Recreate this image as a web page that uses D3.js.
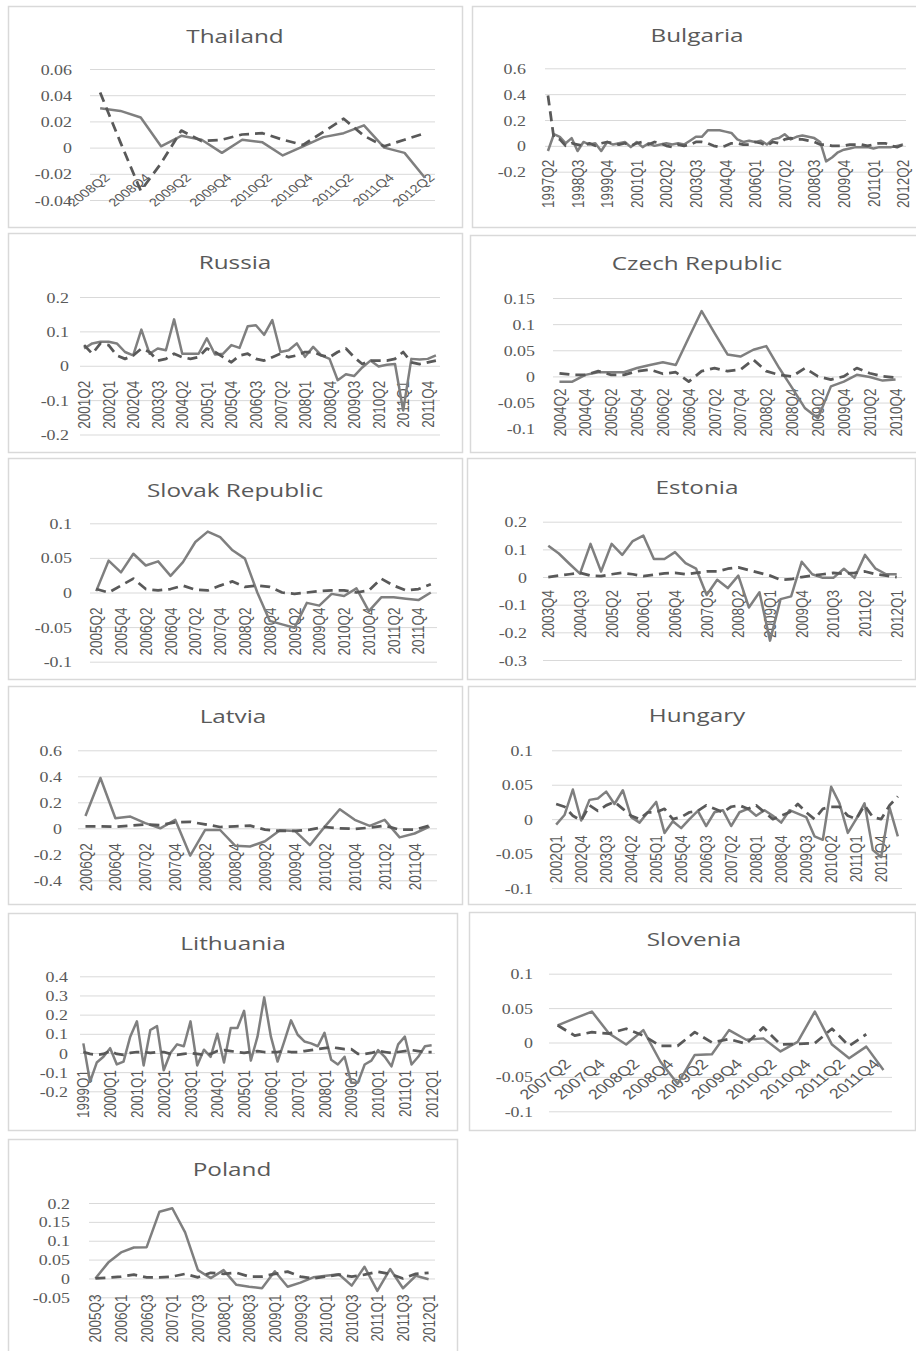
<!DOCTYPE html>
<html>
<head>
<meta charset="utf-8">
<script src="https://cdn.jsdelivr.net/npm/d3@7"></script>
<style>body{margin:0;background:#fff}</style>
</head>
<body>
<script>
// Quarterly category labels from one quarter to another, inclusive.
function quarters(from, to) {
  let y = +from.slice(0, 4), q = +from.slice(5);
  const ey = +to.slice(0, 4), eq = +to.slice(5);
  const out = [];
  while (y < ey || (y === ey && q <= eq)) {
    out.push(y + "Q" + q);
    q++; if (q > 4) { q = 1; y++; }
  }
  return out;
}

// ---------------- data ----------------
const thailandCategories = quarters("2008Q2", "2012Q2");
const thailandTicks = [-0.04, -0.02, 0, 0.02, 0.04, 0.06];
const thailandSolid = [0.030, 0.028, 0.023, 0.001, 0.009, 0.006, -0.004, 0.006, 0.004, -0.006, 0.001, 0.008, 0.011, 0.017, 0.000, -0.004, -0.023];
const thailandDashed = [0.042, 0.004, -0.033, -0.012, 0.013, 0.005, 0.006, 0.010, 0.011, 0.006, 0.002, 0.012, 0.022, 0.009, 0.001, 0.006, 0.011];

const bulgariaCategories = quarters("1997Q2", "2012Q2");
const bulgariaTicks = [-0.2, 0, 0.2, 0.4, 0.6];
const bulgariaSolid = [-0.04, 0.09, 0.07, 0.02, 0.06, -0.04, 0.03, 0.01, 0.02, -0.04,
  0.03, 0.01, 0.02, 0.03, -0.01, 0.03, -0.01, 0.02, 0.00, 0.01,
  0.02, 0.01, 0.02, 0.01, 0.04, 0.07, 0.07, 0.12, 0.12, 0.12,
  0.11, 0.10, 0.05, 0.03, 0.04, 0.03, 0.04, 0.01, 0.05, 0.06,
  0.09, 0.05, 0.07, 0.08, 0.07, 0.06, 0.03, -0.12, -0.09, -0.05,
  -0.03, -0.02, -0.01, -0.01, -0.01, -0.02, -0.01, -0.01, -0.01, 0.00, 0.01];
const bulgariaDashed = [0.39, 0.06, 0.05, 0.00, 0.02, 0.01, 0.00, 0.02, 0.00, 0.02,
  0.03, 0.02, 0.01, 0.02, 0.00, 0.02, 0.03, 0.01, 0.03, 0.02,
  0.00, -0.01, 0.01, 0.00, 0.01, 0.03, 0.03, 0.02, 0.00, -0.01,
  0.00, 0.02, 0.02, 0.01, 0.01, 0.03, 0.02, 0.00, 0.03, 0.02,
  0.05, 0.06, 0.05, 0.05, 0.04, 0.03, 0.01, 0.01, 0.00, 0.00,
  0.00, 0.01, 0.01, 0.01, 0.00, 0.01, 0.02, 0.02, 0.00, -0.01, 0.01];

const russiaCategories = quarters("2001Q2", "2012Q1");
const russiaTicks = [-0.2, -0.1, 0, 0.1, 0.2];
const russiaSolid = [0.05, 0.065, 0.07, 0.07, 0.065, 0.04, 0.03, 0.105, 0.035, 0.05,
  0.045, 0.135, 0.035, 0.035, 0.035, 0.08, 0.033, 0.035, 0.06, 0.052,
  0.115, 0.118, 0.09, 0.133, 0.04, 0.045, 0.065, 0.026, 0.055, 0.03,
  0.02, -0.042, -0.025, -0.03, -0.005, 0.015, -0.002, 0.003, 0.005, -0.13,
  0.02, 0.018, 0.02, 0.03];
const russiaDashed = [0.06, 0.035, 0.065, 0.06, 0.03, 0.02, 0.03, 0.05, 0.04, 0.015,
  0.02, 0.035, 0.025, 0.02, 0.025, 0.05, 0.04, 0.025, 0.01, 0.03,
  0.035, 0.02, 0.015, 0.025, 0.035, 0.025, 0.03, 0.04, 0.04, 0.03,
  0.025, 0.04, 0.05, 0.025, 0.005, 0.015, 0.015, 0.015, 0.02, 0.04,
  0.01, 0.005, 0.01, 0.015];

const czechCategories = quarters("2004Q2", "2010Q4");
const czechTicks = [-0.1, -0.05, 0, 0.05, 0.1, 0.15];
const czechSolid = [-0.01, -0.01, 0.003, 0.008, 0.008, 0.008, 0.016, 0.022, 0.027, 0.022,
  0.074, 0.125, 0.083, 0.042, 0.038, 0.051, 0.058, 0.016, -0.022, -0.061,
  -0.08, -0.019, -0.01, 0.003, -0.001, -0.008, -0.006];
const czechDashed = [0.006, 0.003, 0.003, 0.01, 0.003, 0.003, 0.01, 0.013, 0.005, 0.008,
  -0.01, 0.01, 0.016, 0.01, 0.013, 0.032, 0.01, 0.003, 0.0, 0.016,
  0.0, -0.006, 0.0, 0.016, 0.006, 0.0, -0.002];

const slovakCategories = quarters("2005Q2", "2012Q1");
const slovakTicks = [-0.1, -0.05, 0, 0.05, 0.1];
const slovakSolid = [0.002, 0.046, 0.029, 0.056, 0.039, 0.045, 0.024, 0.044, 0.073, 0.088,
  0.08, 0.061, 0.049, 0.0, -0.041, -0.046, -0.051, -0.015, -0.019, -0.002,
  -0.005, 0.006, -0.027, -0.007, -0.007, -0.009, -0.011, 0.0];
const slovakDashed = [0.005, 0.0, 0.01, 0.02, 0.005, 0.003, 0.005, 0.01, 0.004, 0.003,
  0.01, 0.016, 0.008, 0.01, 0.008, 0.0, -0.002, 0.0, 0.002, 0.003,
  0.003, 0.0, 0.003, 0.02, 0.01, 0.003, 0.005, 0.012];

const estoniaCategories = quarters("2003Q4", "2012Q1");
const estoniaTicks = [-0.3, -0.2, -0.1, 0, 0.1, 0.2];
const estoniaSolid = [0.113, 0.085, 0.048, 0.012, 0.12, 0.02, 0.12, 0.08, 0.13, 0.15,
  0.065, 0.065, 0.09, 0.05, 0.03, -0.065, -0.01, -0.04, 0.005, -0.11,
  -0.055, -0.23, -0.08, -0.07, 0.055, 0.01, -0.003, -0.003, 0.03, -0.003,
  0.08, 0.03, 0.01, 0.01];
const estoniaDashed = [0.0, 0.005, 0.01, 0.015, 0.005, 0.003, 0.01, 0.015, 0.01, 0.003,
  0.008, 0.013, 0.015, 0.01, 0.015, 0.02, 0.02, 0.03, 0.035, 0.025,
  0.015, 0.005, -0.01, -0.008, 0.0, 0.005, 0.01, 0.015, 0.012, 0.015,
  0.02, 0.01, 0.005, 0.0];

const latviaCategories = quarters("2006Q2", "2012Q1");
const latviaTicks = [-0.4, -0.2, 0, 0.2, 0.4, 0.6];
const latviaSolid = [0.095, 0.387, 0.077, 0.09, 0.04, 0.0, 0.065, -0.21, -0.013, -0.013,
  -0.134, -0.14, -0.1, -0.015, -0.02, -0.13, 0.013, 0.147, 0.065, 0.018,
  0.065, -0.07, -0.04, 0.013];
const latviaDashed = [0.015, 0.015, 0.012, 0.02, 0.03, 0.025, 0.045, 0.05, 0.03, 0.01,
  0.015, 0.02, -0.01, -0.02, -0.02, -0.01, 0.01, 0.0, -0.005, 0.005,
  0.02, -0.01, -0.01, 0.02];

const hungaryCategories = quarters("2002Q1", "2012Q2");
const hungaryTicks = [-0.1, -0.05, 0, 0.05, 0.1];
const hungarySolid = [-0.008, 0.006, 0.043, -0.002, 0.028, 0.03, 0.04, 0.022, 0.042, 0.003,
  -0.005, 0.01, 0.025, -0.02, -0.003, -0.013, 0.0, 0.012, -0.01, 0.01,
  0.013, -0.01, 0.01, 0.015, 0.005, 0.013, 0.005, -0.005, 0.013, 0.008,
  0.003, -0.025, -0.03, 0.047, 0.023, -0.02, 0.0, 0.023, -0.045, -0.055,
  0.017, -0.025];
const hungaryDashed = [0.022, 0.018, 0.005, -0.002, 0.02, 0.012, 0.02, 0.025, 0.015, 0.005,
  0.0, 0.01, 0.01, 0.015, 0.0, 0.003, 0.01, 0.012, 0.02, 0.015,
  0.01, 0.018, 0.02, 0.015, 0.02, 0.01, 0.0, 0.005, 0.01, 0.022,
  0.01, 0.0, 0.015, 0.018, 0.018, 0.005, 0.0, 0.02, 0.003, 0.0,
  0.02, 0.033];

const lithuaniaCategories = quarters("1999Q1", "2012Q1");
const lithuaniaTicks = [-0.2, -0.1, 0, 0.1, 0.2, 0.3, 0.4];
const lithuaniaSolid = [0.05, -0.15, -0.05, -0.02, 0.025, -0.06, -0.045, 0.085, 0.165, -0.065,
  0.12, 0.14, -0.09, 0.0, 0.045, 0.035, 0.165, -0.065, 0.017, -0.02,
  0.1, -0.05, 0.13, 0.13, 0.22, -0.04, 0.085, 0.29, 0.085, -0.045,
  0.06, 0.17, 0.095, 0.06, 0.05, 0.035, 0.105, -0.035, -0.06, -0.02,
  -0.155, -0.155, -0.06, -0.04, 0.015, -0.02, -0.07, 0.045, 0.085, -0.06,
  -0.02, 0.035, 0.04];
const lithuaniaDashed = [0.005, -0.005, -0.01, -0.005, 0.01, -0.005, -0.01, 0.0, 0.005, 0.005,
  0.0, 0.005, 0.005, -0.005, -0.01, -0.005, 0.0, -0.005, -0.01, -0.005,
  0.01, 0.015, 0.01, 0.005, 0.0, 0.005, 0.01, 0.005, 0.005, 0.005,
  0.01, 0.005, 0.005, 0.01, 0.015, 0.02, 0.025, 0.03, 0.025, 0.02,
  0.02, -0.005, -0.005, 0.0, 0.01, 0.005, 0.0, 0.005, 0.01, 0.015,
  0.01, 0.005, 0.005];

const sloveniaCategories = quarters("2007Q2", "2012Q1");
const sloveniaTicks = [-0.1, -0.05, 0, 0.05, 0.1];
const sloveniaSolid = [0.025, 0.035, 0.045, 0.013, -0.003, 0.018, -0.028, -0.06, -0.018, -0.017,
  0.018, 0.004, 0.006, -0.013, 0.001, 0.045, -0.003, -0.023, -0.006, -0.04];
const sloveniaDashed = [0.025, 0.01, 0.015, 0.013, 0.02, 0.01, -0.005, -0.005, 0.015, 0.0,
  0.005, -0.002, 0.022, -0.003, -0.002, -0.001, 0.02, -0.005, 0.012];

const polandCategories = quarters("2005Q3", "2012Q1");
const polandTicks = [-0.05, 0, 0.05, 0.1, 0.15, 0.2];
const polandSolid = [0.0, 0.042, 0.069, 0.082, 0.083, 0.177, 0.186, 0.122, 0.022, 0.001,
  0.022, -0.017, -0.022, -0.026, 0.019, -0.022, -0.011, 0.003, 0.007, 0.011,
  -0.019, 0.031, -0.033, 0.025, -0.026, 0.007, -0.002];
const polandDashed = [0.0, 0.002, 0.005, 0.01, 0.003, 0.003, 0.005, 0.012, 0.003, 0.015,
  0.012, 0.015, 0.005, 0.005, 0.012, 0.018, 0.005, 0.0, 0.005, 0.01,
  0.005, 0.01, 0.018, 0.012, 0.0, 0.012, 0.015];

// ---------------- layout ----------------
// box: panel frame; plot: x extent of the category axis and y pixels of the
// lowest / highest tick; title: centre x and baseline; tickRight: right edge
// of the value labels; every/angle/labelDy/labelDx/labelSize: category labels.
const panels = [
  { name: "Thailand", cats: thailandCategories, ticks: thailandTicks, solid: thailandSolid, dashed: thailandDashed,
    box: [8, 6, 462, 227], plot: { l: 90, r: 435, b: 200, t: 69 }, title: [235, 43], tickRight: 72,
    every: 2, angle: -45, labelDy: 28, labelDx: 7, labelSize: 11.5 },
  { name: "Bulgaria", cats: bulgariaCategories, ticks: bulgariaTicks, solid: bulgariaSolid, dashed: bulgariaDashed,
    box: [472, 6, 918, 227], plot: { l: 545, r: 906, b: 171.7, t: 68.3 }, title: [697, 42], tickRight: 526,
    every: 5, angle: -90, labelDy: 14, labelDx: 0, labelSize: 13.5 },
  { name: "Russia", cats: russiaCategories, ticks: russiaTicks, solid: russiaSolid, dashed: russiaDashed,
    box: [8, 233, 462, 452], plot: { l: 80, r: 440, b: 434.5, t: 297 }, title: [235, 269], tickRight: 69,
    every: 3, angle: -90, labelDy: 15, labelDx: 0, labelSize: 13.5 },
  { name: "Czech Republic", cats: czechCategories, ticks: czechTicks, solid: czechSolid, dashed: czechDashed,
    box: [470, 235, 918, 452], plot: { l: 553, r: 902, b: 428.7, t: 298 }, title: [697, 270], tickRight: 535,
    every: 2, angle: -90, labelDy: 12, labelDx: 0, labelSize: 13.5 },
  { name: "Slovak Republic", cats: slovakCategories, ticks: slovakTicks, solid: slovakSolid, dashed: slovakDashed,
    box: [8, 458, 462, 679], plot: { l: 90, r: 437, b: 661.7, t: 523.3 }, title: [235, 497], tickRight: 72,
    every: 2, angle: -90, labelDy: 15, labelDx: 0, labelSize: 13.5 },
  { name: "Estonia", cats: estoniaCategories, ticks: estoniaTicks, solid: estoniaSolid, dashed: estoniaDashed,
    box: [467, 458, 915, 679], plot: { l: 543, r: 902, b: 660, t: 521.7 }, title: [697, 494], tickRight: 527,
    every: 3, angle: -90, labelDy: 13, labelDx: 0, labelSize: 13.5 },
  { name: "Latvia", cats: latviaCategories, ticks: latviaTicks, solid: latviaSolid, dashed: latviaDashed,
    box: [8, 686, 462, 904], plot: { l: 78, r: 437, b: 880.3, t: 750.3 }, title: [233, 723], tickRight: 62,
    every: 2, angle: -90, labelDy: 15, labelDx: 0, labelSize: 13.5 },
  { name: "Hungary", cats: hungaryCategories, ticks: hungaryTicks, solid: hungarySolid, dashed: hungaryDashed,
    box: [468, 686, 918, 904], plot: { l: 552, r: 902, b: 888, t: 750.3 }, title: [697, 722], tickRight: 533,
    every: 3, angle: -90, labelDy: 16, labelDx: 0, labelSize: 13.5 },
  { name: "Lithuania", cats: lithuaniaCategories, ticks: lithuaniaTicks, solid: lithuaniaSolid, dashed: lithuaniaDashed,
    box: [8, 913, 457, 1130], plot: { l: 80, r: 435, b: 1091.3, t: 976.3 }, title: [233, 950], tickRight: 68,
    every: 4, angle: -90, labelDy: 17, labelDx: 0, labelSize: 13.5 },
  { name: "Slovenia", cats: sloveniaCategories, ticks: sloveniaTicks, solid: sloveniaSolid, dashed: sloveniaDashed,
    box: [469, 912, 915, 1130], plot: { l: 549, r: 892, b: 1111.3, t: 973.7 }, title: [694, 946], tickRight: 533,
    every: 2, angle: -45, labelDy: 19, labelDx: 10, labelSize: 14 },
  { name: "Poland", cats: polandCategories, ticks: polandTicks, solid: polandSolid, dashed: polandDashed,
    box: [8, 1139, 457, 1365], plot: { l: 89, r: 435, b: 1297.3, t: 1203 }, title: [232, 1176], tickRight: 70,
    every: 2, angle: -90, labelDy: 16, labelDx: 0, labelSize: 13.5 }
];

// ---------------- drawing ----------------
const SX = 1.28;             // text is drawn slightly wide
const TEXT = "#595959";
const GRID = "#d9d9d9";
const fmt = d => String(+d.toFixed(3));

const svg = d3.select("body").append("svg")
  .attr("width", 916).attr("height", 1351)
  .style("display", "block");

panels.forEach(p => {
  const g = svg.append("g");
  const [bx0, by0, bx1, by1] = p.box;

  g.append("rect")
    .attr("x", bx0 + 0.5).attr("y", by0 + 0.5)
    .attr("width", bx1 - bx0).attr("height", by1 - by0)
    .attr("fill", "#fff").attr("stroke", GRID).attr("stroke-width", 1.5);

  g.append("text")
    .attr("transform", `translate(${p.title[0]},${p.title[1]}) scale(${SX},1)`)
    .attr("text-anchor", "middle")
    .attr("font-family", "'Open Sans', sans-serif")
    .attr("font-size", 19)
    .attr("fill", TEXT)
    .text(p.name);

  const x = d3.scaleBand().domain(p.cats).range([p.plot.l, p.plot.r]);
  const y = d3.scaleLinear()
    .domain([p.ticks[0], p.ticks[p.ticks.length - 1]])
    .range([p.plot.b, p.plot.t]);

  // value axis with full-width gridlines
  const yAxis = g.append("g")
    .attr("transform", `translate(${p.plot.l},0)`)
    .call(d3.axisLeft(y).tickValues(p.ticks).tickSize(-(p.plot.r - p.plot.l)).tickFormat(fmt));
  yAxis.select(".domain").remove();
  yAxis.selectAll(".tick line").attr("stroke", GRID).attr("stroke-width", 1);
  yAxis.selectAll(".tick text")
    .attr("x", 0).attr("dy", "0.36em").attr("text-anchor", "end")
    .attr("transform", `translate(${p.tickRight - p.plot.l},0) scale(${SX},1)`)
    .attr("font-family", "'Liberation Serif', serif")
    .attr("font-size", 14)
    .attr("fill", TEXT);

  // category labels hanging below the zero line
  const shown = p.cats.filter((d, i) => i % p.every === 0);
  const xAxis = g.append("g")
    .attr("transform", `translate(0,${y(0) + p.labelDy})`)
    .call(d3.axisBottom(x).tickValues(shown).tickSize(0).tickPadding(0));
  xAxis.select(".domain").remove();
  xAxis.selectAll(".tick text")
    .attr("y", 0).attr("dy", "0.35em").attr("text-anchor", "end")
    .attr("transform", `translate(${p.labelDx},0) scale(${SX},1) rotate(${p.angle})`)
    .attr("font-family", "'Liberation Sans', Arial, sans-serif")
    .attr("font-size", p.labelSize)
    .attr("fill", TEXT);

  const cx = i => x(p.cats[i]) + x.bandwidth() / 2;
  const line = d3.line().x((d, i) => cx(i)).y(d => y(d));

  g.append("path").datum(p.solid)
    .attr("d", line)
    .attr("fill", "none")
    .attr("stroke", "#7f7f7f")
    .attr("stroke-width", 2.5)
    .attr("stroke-linejoin", "round");

  g.append("path").datum(p.dashed)
    .attr("d", line)
    .attr("fill", "none")
    .attr("stroke", "#595959")
    .attr("stroke-width", 2.75)
    .attr("stroke-linejoin", "round")
    .attr("stroke-dasharray", "10,6");
});
</script>
</body>
</html>
